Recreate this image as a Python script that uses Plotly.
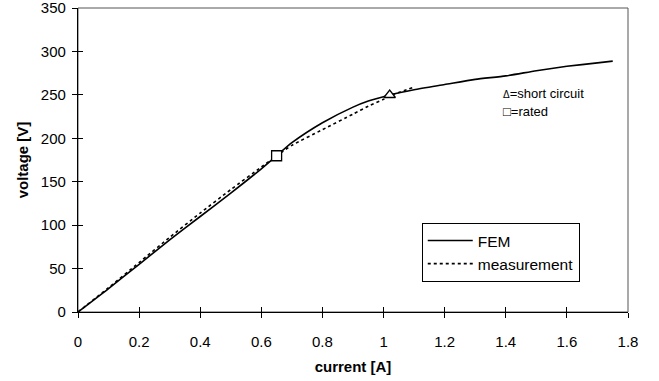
import plotly.graph_objects as go

# FEM curve
fem_current = [0, 0.1, 0.2, 0.3, 0.4, 0.5, 0.6, 0.65, 0.7, 0.8, 0.9, 0.95, 1.0, 1.02, 1.1, 1.2, 1.3, 1.4, 1.5, 1.6, 1.7, 1.75]
fem_voltage = [0, 27, 55, 83, 110, 137, 165, 180, 195, 218, 236, 243, 248, 250, 256, 262, 268, 272, 278, 283, 287, 289]

# measurement curve
meas_current = [0, 0.1, 0.2, 0.3, 0.4, 0.5, 0.6, 0.65, 0.7, 0.8, 0.9, 0.95, 1.0, 1.02, 1.1]
meas_voltage = [0, 28, 57, 86, 114, 141, 167, 180, 192, 210, 228, 237, 245, 249, 259]

# operating points
rated_point = (0.65, 180)
short_circuit_point = (1.02, 250)

x_ticks = [0, 0.2, 0.4, 0.6, 0.8, 1, 1.2, 1.4, 1.6, 1.8]
y_ticks = [0, 50, 100, 150, 200, 250, 300, 350]

FONT = "Liberation Sans, Arial, sans-serif"

fig = go.Figure()
fig.add_trace(go.Scatter(x=fem_current, y=fem_voltage, mode="lines", name="FEM",
                         line=dict(color="black", width=1.6, shape="spline", smoothing=0.6)))
fig.add_trace(go.Scatter(x=meas_current, y=meas_voltage, mode="lines", name="measurement",
                         line=dict(color="black", width=1.6, dash="dot", shape="spline", smoothing=0.6)))
fig.add_trace(go.Scatter(x=[rated_point[0]], y=[rated_point[1]], mode="markers", showlegend=False,
                         marker=dict(symbol="square", size=10, color="white", line=dict(color="black", width=1.3))))
fig.add_trace(go.Scatter(x=[short_circuit_point[0]], y=[short_circuit_point[1]], mode="markers", showlegend=False,
                         marker=dict(symbol="triangle-up", size=10, color="white", line=dict(color="black", width=1.3))))

fig.add_annotation(x=1.385, y=252, xref="x", yref="y", xanchor="left", yanchor="middle", showarrow=False,
                   text="<span style='font-size:10px'>Δ</span>=short circuit", font=dict(size=13, color="black", family=FONT))
fig.add_annotation(x=1.385, y=231, xref="x", yref="y", xanchor="left", yanchor="middle", showarrow=False,
                   text="□=rated", font=dict(size=13, color="black", family=FONT))

# light frame (top/right border)
fig.add_shape(type="rect", xref="paper", yref="paper", x0=0, y0=0, x1=1, y1=1,
              line=dict(color="#555555", width=1), layer="below")

axis_common = dict(showgrid=False, zeroline=False, showline=True, linecolor="black", linewidth=1.3,
                   ticks="outside", ticklen=5, tickwidth=1, tickcolor="black", automargin=False,
                   ticklabeloverflow="allow",
                   tickfont=dict(size=15, color="black", family=FONT))

fig.update_layout(
    width=659, height=381,
    margin=dict(l=78, r=31, t=8, b=69),
    paper_bgcolor="white", plot_bgcolor="white",
    font=dict(family=FONT, color="black"),
    xaxis=dict(**axis_common, range=[0, 1.8], tickvals=x_ticks, ticktext=[f"{v:g}" for v in x_ticks],
               ticklabelstandoff=11,
               title=dict(text="<b>current [A]</b>", font=dict(size=15, color="black", family=FONT), standoff=12)),
    yaxis=dict(**axis_common, range=[0, 350.2], tickvals=y_ticks, ticktext=[str(v) for v in y_ticks],
               ticklabelstandoff=3,
               title=dict(text="<b>voltage [V]</b>", font=dict(size=15, color="black", family=FONT), standoff=8)),
    xaxis2=dict(overlaying="x", anchor="y", side="bottom", range=[0, 1.8], tickvals=x_ticks,
                showticklabels=False, showgrid=False, zeroline=False, showline=False, automargin=False,
                ticks="inside", ticklen=5, tickwidth=1, tickcolor="black"),
    yaxis2=dict(overlaying="y", anchor="x", side="left", range=[0, 350.2], tickvals=y_ticks,
                showticklabels=False, showgrid=False, zeroline=False, showline=False, automargin=False,
                ticks="inside", ticklen=5, tickwidth=1, tickcolor="black"),
    legend=dict(x=0.625, y=0.293, xanchor="left", yanchor="top", bgcolor="white",
                bordercolor="black", borderwidth=1, font=dict(size=15.5, color="black", family=FONT),
                tracegroupgap=0, itemwidth=45),
)

# dummy invisible trace to activate overlay axes
fig.add_trace(go.Scatter(x=[0], y=[0], xaxis="x2", yaxis="y2", mode="markers",
                         marker=dict(opacity=0), showlegend=False, hoverinfo="skip"))

fig.write_html("out.html", config={"displayModeBar": False},
               post_script="document.body.style.margin='0px';")
